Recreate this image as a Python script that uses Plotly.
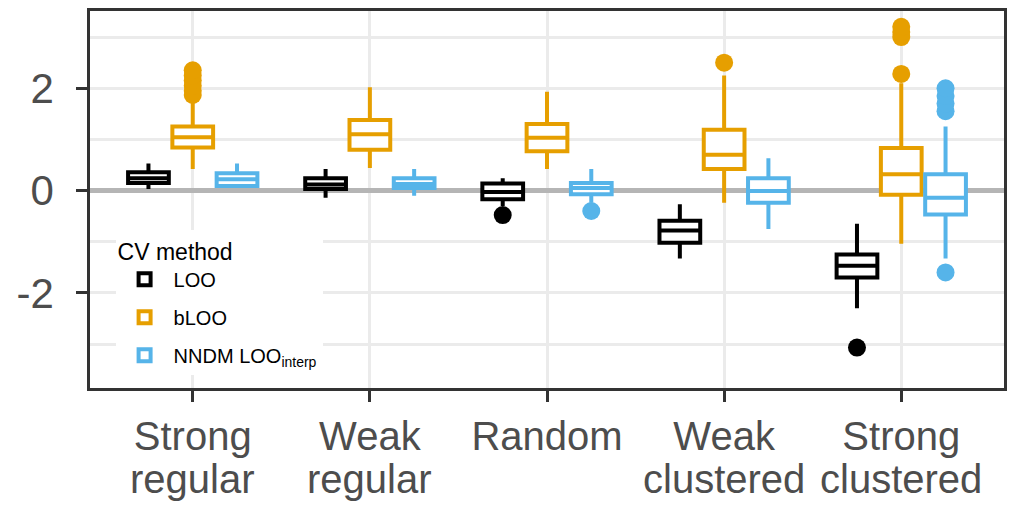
import plotly.graph_objects as go

# Spatial sampling designs on the x axis (two-line labels)
line1 = ["Strong", "Weak", "Random", "Weak", "Strong"]
line2 = ["regular", "regular", "", "clustered", "clustered"]

methods = ["LOO", "bLOO", "NNDM LOO<sub>interp</sub>"]
colors = ["#000000", "#E69F00", "#56B4E9"]

# Box statistics per method, one value per design
loo_low = [0.03, -0.14, -0.30, -1.33, -2.30]
loo_q1 = [0.15, 0.03, -0.17, -1.02, -1.70]
loo_med = [0.24, 0.12, -0.03, -0.78, -1.47]
loo_q3 = [0.36, 0.24, 0.14, -0.59, -1.25]
loo_high = [0.53, 0.42, 0.24, -0.27, -0.65]
loo_out = [[], [], [-0.48], [], [-3.07]]

bloo_low = [0.42, 0.44, 0.42, -0.24, -1.04]
bloo_q1 = [0.84, 0.80, 0.77, 0.42, -0.08]
bloo_med = [1.04, 1.10, 1.03, 0.70, 0.32]
bloo_q3 = [1.25, 1.38, 1.30, 1.19, 0.83]
bloo_high = [1.80, 2.02, 1.93, 2.25, 2.10]
bloo_out = [[1.87, 1.95, 2.05, 2.15, 2.25, 2.35], [], [], [2.50],
            [2.28, 3.00, 3.10, 3.20]]

nndm_low = [0.05, -0.10, -0.24, -0.75, -1.33]
nndm_q1 = [0.09, 0.05, -0.07, -0.24, -0.47]
nndm_med = [0.22, 0.13, 0.05, -0.01, -0.14]
nndm_q3 = [0.34, 0.24, 0.15, 0.24, 0.32]
nndm_high = [0.53, 0.42, 0.42, 0.63, 1.25]
nndm_out = [[], [], [-0.40], [], [-1.60, 1.55, 1.70, 1.85, 2.00]]

stats = [
    (loo_low, loo_q1, loo_med, loo_q3, loo_high, loo_out),
    (bloo_low, bloo_q1, bloo_med, bloo_q3, bloo_high, bloo_out),
    (nndm_low, nndm_q1, nndm_med, nndm_q3, nndm_high, nndm_out),
]

dodge = 0.25
box_w = 0.23
font = "Liberation Sans, Arial, sans-serif"

fig = go.Figure()
n_cat = len(line1)
for k, (name, col, st) in enumerate(zip(methods, colors, stats)):
    low, q1, med, q3, high, outl = st
    pos = [i + (k - 1) * dodge for i in range(n_cat)]
    fig.add_trace(go.Box(
        x=pos, q1=q1, median=med, q3=q3,
        lowerfence=low, upperfence=high,
        width=box_w, whiskerwidth=0,
        line=dict(color=col, width=4),
        fillcolor="white", boxpoints=False,
        name=name, legendgroup=name, hoverinfo="skip",
    ))
    ox, oy = [], []
    for i, vals in enumerate(outl):
        for v in vals:
            ox.append(pos[i])
            oy.append(v)
    fig.add_trace(go.Scatter(
        x=ox, y=oy, mode="markers",
        marker=dict(color=col, size=18, line=dict(width=0)),
        showlegend=False, legendgroup=name, hoverinfo="skip",
    ))

# second line of the two-line design labels
for i, txt in enumerate(line2):
    if txt:
        fig.add_annotation(
            x=i, xref="x", y=0, yref="paper", yanchor="top",
            yshift=-67, text=txt, showarrow=False,
            font=dict(family=font, size=40, color="#4d4d4d"),
        )

grid = "#ebebeb"
border = "#333333"
fig.update_xaxes(
    range=[-0.58, n_cat - 1 + 0.58],
    tickvals=list(range(n_cat)), ticktext=line1,
    tickfont=dict(family=font, size=40, color="#4d4d4d"),
    ticks="outside", ticklen=11, tickwidth=2.5, tickcolor=border,
    showgrid=True, gridcolor=grid, gridwidth=3,
    showline=True, linecolor=border, linewidth=2.5, mirror=True,
    zeroline=False,
)
fig.update_yaxes(
    range=[-3.86, 3.51],
    tickvals=[-2, 0, 2], ticktext=["-2", "0", "2"],
    tickfont=dict(family=font, size=42, color="#4d4d4d"),
    ticks="outside", ticklen=11, tickwidth=2.5, tickcolor=border,
    ticklabelstandoff=14,
    showgrid=True, gridcolor=grid, gridwidth=3,
    minor=dict(tickvals=[-3, -1, 1, 3], showgrid=True,
               gridcolor=grid, gridwidth=2.5, ticks=""),
    zeroline=True, zerolinecolor="#b5b5b5", zerolinewidth=5,
    showline=True, linecolor=border, linewidth=2.5, mirror=True,
)

fig.update_layout(
    width=1015, height=507,
    margin=dict(l=90, r=10, t=8, b=119),
    plot_bgcolor="white", paper_bgcolor="white",
    font=dict(family=font),
    showlegend=True,
    legend=dict(
        x=0.028, y=0.035, xanchor="left", yanchor="bottom",
        bgcolor="white", borderwidth=0,
        font=dict(family=font, size=20, color="black"),
        title=dict(text="CV method", font=dict(family=font, size=23, color="black")),
        tracegroupgap=9, traceorder="grouped", itemwidth=48,
    ),
)

fig.write_html("out.html")
